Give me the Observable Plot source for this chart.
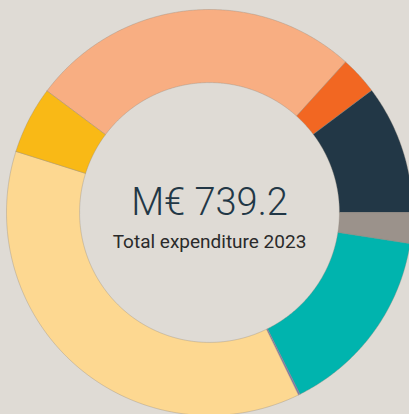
<!DOCTYPE html>
<html>
<head>
<meta charset="utf-8">
<script src="https://cdn.jsdelivr.net/npm/d3@7"></script>
<script src="https://cdn.jsdelivr.net/npm/@observablehq/plot@0.6"></script>
<style>
  html, body { margin: 0; padding: 0; background: #dfdbd5; }
  #chart svg { display: block; }
</style>
</head>
<body>
<div id="chart"></div>
<script>
// Expenditure 2023 by category, in millions of euros
const categories = ["Category 1", "Category 2", "Category 3", "Category 4", "Category 5", "Category 6", "Category 7", "Category 8"];
const values = [195.7, 22.4, 76.0, 18.1, 112.3, 1.0, 274.1, 39.6];
const colors = ["#f8ae82", "#f26722", "#223746", "#9b928b", "#00b4ae", "#7f78b0", "#fdd891", "#f9b916"];
const totalLabel = "M€ 739.2";
const subtitle = "Total expenditure 2023";

const W = 409, H = 414;
const outerR = 1, innerR = 0.64;

// Slice angles from d3.pie, starting left of twelve o'clock
const arcs = d3.pie().sort(null).startAngle(-53.2 * Math.PI / 180)(values);

// Ring outline of each slice as a polygon in unit-radius coordinates
const ring = [];
arcs.forEach((a, i) => {
  const n = Math.max(4, Math.ceil((a.endAngle - a.startAngle) * 180));
  const pts = [];
  for (let k = 0; k <= n; k++) {
    const t = a.startAngle + (a.endAngle - a.startAngle) * k / n;
    pts.push([outerR * Math.sin(t), outerR * Math.cos(t)]);
  }
  for (let k = n; k >= 0; k--) {
    const t = a.startAngle + (a.endAngle - a.startAngle) * k / n;
    pts.push([innerR * Math.sin(t), innerR * Math.cos(t)]);
  }
  pts.push(pts[0]);
  pts.forEach(([x, y]) => ring.push({category: categories[i], x, y}));
});

// Scales place the ring centre at (209, 212) with an outer radius of 203px
const s = 203;
const plot = Plot.plot({
  width: W,
  height: H,
  margin: 0,
  style: {background: "#dfdbd5", overflow: "hidden"},
  x: {domain: [-209 / s, (W - 209) / s], axis: null},
  y: {domain: [-(H - 212) / s, 212 / s], axis: null},
  color: {domain: categories, range: colors},
  marks: [
    Plot.line(ring, {x: "x", y: "y", z: "category", fill: "category", stroke: "#8f877c", strokeWidth: 0.5, strokeOpacity: 0.7, curve: "linear"}),
    Plot.text([totalLabel], {x: () => 0, y: () => 0, text: d => d, dy: 2, fontSize: 38, fontWeight: 300, fill: "#223746", fontFamily: "Roboto", letterSpacing: "-2px", textAnchor: "middle", lineAnchor: "bottom"}),
    Plot.text([subtitle], {x: () => 0, y: () => 0, text: d => d, dy: 35, fontSize: 19, fontWeight: 400, fill: "#2a2a2a", fontFamily: "Roboto", letterSpacing: "-0.2px", textAnchor: "middle", lineAnchor: "bottom"})
  ]
});
document.getElementById("chart").appendChild(plot);
</script>
</body>
</html>
